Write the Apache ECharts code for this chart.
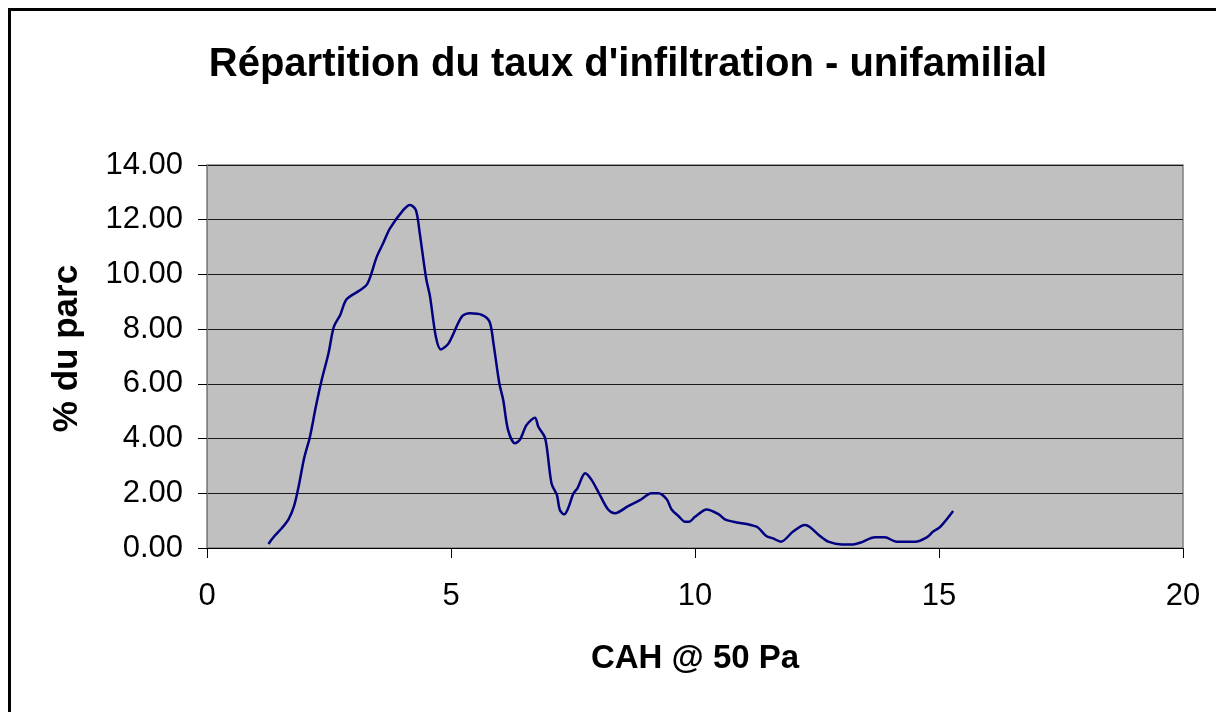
<!DOCTYPE html>
<html>
<head>
<meta charset="utf-8">
<script src="https://cdn.jsdelivr.net/npm/echarts@6/dist/echarts.min.js"></script>
<style>
html,body{margin:0;padding:0;background:#fff;}
#chart{width:1216px;height:712px;}
</style>
</head>
<body>
<div id="chart"></div>
<script>
const chartTitle = "Répartition du taux d'infiltration - unifamilial";
const xAxisTitle = "CAH @ 50 Pa";
const yAxisTitle = "% du parc";
const cahValues = [1.26,1.37,1.53,1.67,1.78,1.87,1.99,2.11,2.23,2.35,2.49,2.60,2.73,2.86,3.14,3.29,3.48,3.61,3.75,4.02,4.16,4.28,4.36,4.49,4.57,4.69,4.79,4.95,5.22,5.39,5.63,5.79,5.87,5.99,6.07,6.17,6.31,6.41,6.55,6.72,6.79,6.93,7.06,7.17,7.23,7.32,7.40,7.51,7.59,7.75,7.88,8.05,8.22,8.36,8.63,8.87,9.11,9.25,9.42,9.52,9.66,9.80,9.88,10.00,10.24,10.48,10.61,10.79,11.26,11.46,11.60,11.76,12.01,12.25,12.36,12.56,12.73,13.01,13.24,13.38,13.69,13.89,14.13,14.51,14.75,14.88,15.03,15.29];
const parcValues = [0.15,0.41,0.72,1.05,1.51,2.18,3.28,4.07,5.16,6.14,7.12,8.09,8.52,9.09,9.43,9.67,10.65,11.14,11.68,12.35,12.54,12.35,11.50,9.86,9.19,7.72,7.26,7.48,8.45,8.58,8.52,8.27,7.48,6.02,5.41,4.31,3.83,3.95,4.50,4.76,4.43,4.01,2.36,1.94,1.39,1.23,1.45,2.00,2.18,2.73,2.49,1.94,1.41,1.27,1.53,1.75,2.00,2.00,1.78,1.41,1.17,0.96,0.96,1.14,1.41,1.24,1.05,0.96,0.78,0.44,0.35,0.23,0.60,0.84,0.76,0.44,0.23,0.13,0.13,0.19,0.39,0.39,0.23,0.23,0.39,0.60,0.78,1.35];
const xTicks = [0, 5, 10, 15, 20];
const yTicks = [0, 2, 4, 6, 8, 10, 12, 14];

const FONT = "'Liberation Sans', Arial, sans-serif";
const seriesData = cahValues.map((x, i) => [x, parcValues[i]]);

const chart = echarts.init(document.getElementById('chart'), null, {renderer: 'canvas'});
chart.setOption({
  animation: false,
  backgroundColor: '#ffffff',
  title: {
    text: chartTitle,
    left: 623,
    textAlign: 'center',
    top: 40,
    textStyle: {fontFamily: FONT, fontWeight: 'bold', fontSize: 40, color: '#000'}
  },
  graphic: [{
    type: 'rect',
    shape: {x: 9.5, y: 9.5, width: 1230, height: 730},
    style: {fill: 'none', stroke: '#000', lineWidth: 3},
    silent: true
  }],
  grid: {
    left: 207, top: 165, width: 976, height: 383,
    show: true, backgroundColor: '#c0c0c0', borderColor: '#808080', borderWidth: 1.5,
    containLabel: false
  },
  xAxis: {
    type: 'value',
    min: xTicks[0], max: xTicks[xTicks.length - 1], interval: 5,
    name: xAxisTitle,
    nameLocation: 'middle',
    nameGap: 94,
    nameTextStyle: {fontFamily: FONT, fontWeight: 'bold', fontSize: 33, color: '#000'},
    axisLine: {show: true, onZero: false, lineStyle: {color: '#000', width: 1}},
    axisTick: {show: true, inside: false, length: 10, lineStyle: {color: '#000'}},
    axisLabel: {fontFamily: FONT, fontSize: 31, color: '#000', margin: 33},
    splitLine: {show: false}
  },
  yAxis: {
    type: 'value',
    min: yTicks[0], max: yTicks[yTicks.length - 1], interval: 2,
    name: yAxisTitle,
    nameLocation: 'middle',
    nameGap: 122,
    nameTextStyle: {fontFamily: FONT, fontWeight: 'bold', fontSize: 35, color: '#000', padding: [0, 0, 0, 16]},
    axisLine: {show: true, lineStyle: {color: '#808080', width: 1}},
    axisTick: {show: true, inside: false, length: 9, lineStyle: {color: '#000'}},
    axisLabel: {fontFamily: FONT, fontSize: 31, color: '#000', margin: 24,
      formatter: v => v.toFixed(2)},
    splitLine: {show: true, lineStyle: {color: '#1a1a1a', width: 1}}
  },
  series: [{
    type: 'line',
    data: seriesData,
    smooth: 0.3,
    showSymbol: false,
    lineStyle: {color: '#000080', width: 2.5},
    itemStyle: {color: '#000080'}
  }]
});
</script>
</body>
</html>
